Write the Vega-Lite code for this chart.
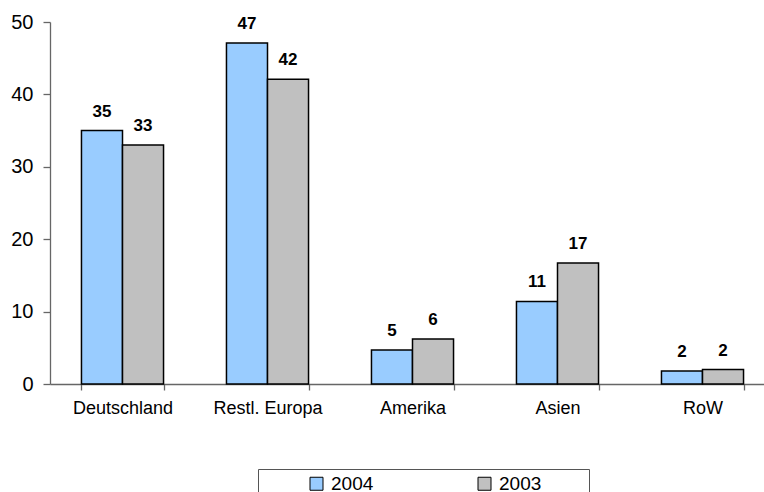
{
  "$schema": "https://vega.github.io/schema/vega-lite/v6.json",
  "autosize": "none",
  "width": 714,
  "height": 362,
  "padding": {"left": 50, "top": 22, "right": 0, "bottom": 108},
  "background": "white",
  "config": {
    "view": {"stroke": null},
    "font": "Liberation Sans"
  },
  "data": {
    "values": [
      {"region": "Deutschland", "year": "2004", "value": 35.0},
      {"region": "Deutschland", "year": "2003", "value": 33.0},
      {"region": "Restl. Europa", "year": "2004", "value": 47.1},
      {"region": "Restl. Europa", "year": "2003", "value": 42.1},
      {"region": "Amerika", "year": "2004", "value": 4.7},
      {"region": "Amerika", "year": "2003", "value": 6.2},
      {"region": "Asien", "year": "2004", "value": 11.4},
      {"region": "Asien", "year": "2003", "value": 16.7},
      {"region": "RoW", "year": "2004", "value": 1.8},
      {"region": "RoW", "year": "2003", "value": 2.0}
    ]
  },
  "encoding": {
    "x": {
      "field": "region", "type": "nominal", "sort": null,
      "scale": {"range": [0, 725], "paddingInner": 0.434, "paddingOuter": 0.217},
      "axis": {
        "title": null, "labelAngle": 0, "labelFontSize": 18, "labelColor": "black",
        "domainColor": "#666", "tickColor": "#666", "tickSize": 6, "tickBand": "extent",
        "labelPadding": 9, "domainWidth": 1.3, "tickWidth": 1.3
      }
    },
    "xOffset": {"field": "year", "type": "nominal", "sort": ["2004", "2003"]},
    "y": {
      "field": "value", "type": "quantitative",
      "scale": {"domain": [0, 50], "nice": false},
      "axis": {
        "title": null, "values": [0, 10, 20, 30, 40, 50], "grid": false,
        "labelFontSize": 20, "labelColor": "black", "domainColor": "#666", "tickColor": "#666",
        "tickSize": 7, "labelPadding": 10, "domainWidth": 1.3, "tickWidth": 1.3
      }
    }
  },
  "layer": [
    {
      "mark": {"type": "bar", "stroke": "black", "strokeWidth": 1.5},
      "encoding": {
        "color": {
          "field": "year", "type": "nominal",
          "scale": {"domain": ["2004", "2003"], "range": ["#99CCFF", "#C0C0C0"]},
          "legend": {
            "title": "\u00a0", "titleOrient": "left", "titleFontSize": 18, "titlePadding": 44,
            "orient": "none", "direction": "horizontal",
            "legendX": 208, "legendY": 447,
            "strokeColor": "#555", "padding": 5, "fillColor": "white",
            "symbolType": "square", "symbolSize": 169, "symbolStrokeColor": "black", "symbolStrokeWidth": 1,
            "labelFontSize": 19, "labelColor": "black", "columnPadding": 101, "labelOffset": 5,
            "labelExpr": "datum.label == '2003' ? datum.label + '\u00a0\u00a0\u00a0\u00a0\u00a0\u00a0\u00a0\u00a0\u200b' : datum.label"
          }
        }
      }
    },
    {
      "mark": {"type": "text", "fontWeight": "bold", "fontSize": 17, "dy": -14, "baseline": "alphabetic", "color": "black"},
      "encoding": {
        "text": {"field": "value", "type": "quantitative", "format": ".0f"}
      }
    }
  ]
}
